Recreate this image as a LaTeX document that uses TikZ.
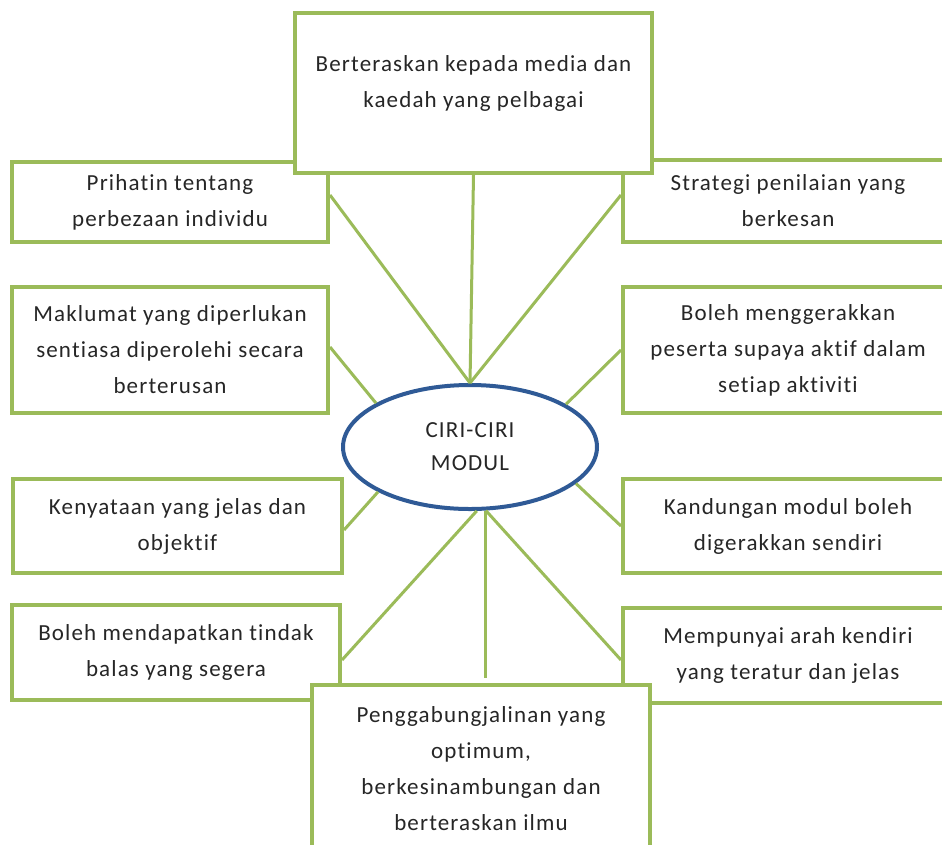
\documentclass[tikz,border=0pt]{standalone}
\usepackage{fontspec}
\setmainfont[LetterSpace=5,Ligatures={NoCommon}]{Carlito}
\usetikzlibrary{shapes.geometric}
\definecolor{boxgreen}{HTML}{9BBB59}
\definecolor{ellblue}{HTML}{2F5A96}
\definecolor{txtgray}{HTML}{262626}
\begin{document}
\begin{tikzpicture}[x=1pt,y=-1pt,
  box/.style={draw=boxgreen, line width=4pt, fill=white, inner sep=0pt,
    align=center, font=\fontsize{23}{36}\selectfont, text=txtgray},
  txt/.style={align=center, font=\fontsize{23}{36}\selectfont, text=txtgray, inner sep=0pt},
  link/.style={draw=boxgreen, line width=3pt}]
\useasboundingbox[fill=white] (0,0) rectangle (942,844);

% boxes behind the top and bottom boxes
\node[box, minimum width=316pt, minimum height=80pt] (pri) at (170,202) {Prihatin tentang\\perbezaan individu};
\node[box, minimum width=330pt, minimum height=82pt] (str) at (788,201) {Strategi penilaian yang\\berkesan};
\node[box, minimum width=316pt, minimum height=126pt] (mak) at (170,350) {Maklumat yang diperlukan\\sentiasa diperolehi secara\\berterusan};
\node[box, minimum width=330pt, minimum height=126pt] (bmg) at (788,350) {Boleh menggerakkan\\peserta supaya aktif dalam\\setiap aktiviti};
\node[box, minimum width=329pt, minimum height=94pt] (ken) at (177.5,526) {Kenyataan yang jelas dan\\objektif};
\node[box, minimum width=330pt, minimum height=94pt] (kan) at (788,526) {Kandungan modul boleh\\digerakkan sendiri};
\node[box, minimum width=328pt, minimum height=95pt] (bmd) at (176,652.5) {Boleh mendapatkan tindak\\balas yang segera};
\node[box, minimum width=330pt, minimum height=95pt] (mem) at (788,655.5) {Mempunyai arah kendiri\\yang teratur dan jelas};

% top and bottom boxes
\node[box, minimum width=357pt, minimum height=160pt] (top) at (473.5,93) {};
\node[txt] (toptxt) at (473.5,83) {Berteraskan kepada media dan\\kaedah yang pelbagai};
\node[box, minimum width=338pt, minimum height=185pt] (bot) at (481,777.5) {};
\node[txt] (bottxt) at (481,768.5) {Penggabungjalinan yang\\optimum,\\berkesinambungan dan\\berteraskan ilmu};

% central ellipse
\node[ellipse, draw=ellblue, line width=4pt, fill=white, minimum width=254pt, minimum height=124pt,
  inner sep=0pt, align=center, font=\fontsize{23}{33}\selectfont, text=txtgray] (ell) at (470,447) {CIRI-CIRI\\MODUL};

% connectors
\coordinate (vb) at (485,678);
\draw[link] ([yshift=7pt]pri.east) -- (ell.north);
\draw[link] (top.south) -- (ell.north);
\draw[link] ([yshift=6pt]str.west) -- (ell.north);
\draw[link] ([yshift=3pt]mak.east) -- (ell.155);
\draw[link] (bmg.west) -- (ell.24);
\draw[link] ([yshift=-4pt]ken.east) -- (ell.206);
\draw[link] (kan.west) -- (ell.341);
\draw[link] ([yshift=-7.5pt]bmd.east) -- (ell.276);
\draw[link] (vb |- ell.south) -- (vb);
\draw[link] ([yshift=-4.5pt]mem.west) -- (ell.284);
\end{tikzpicture}
\end{document}
